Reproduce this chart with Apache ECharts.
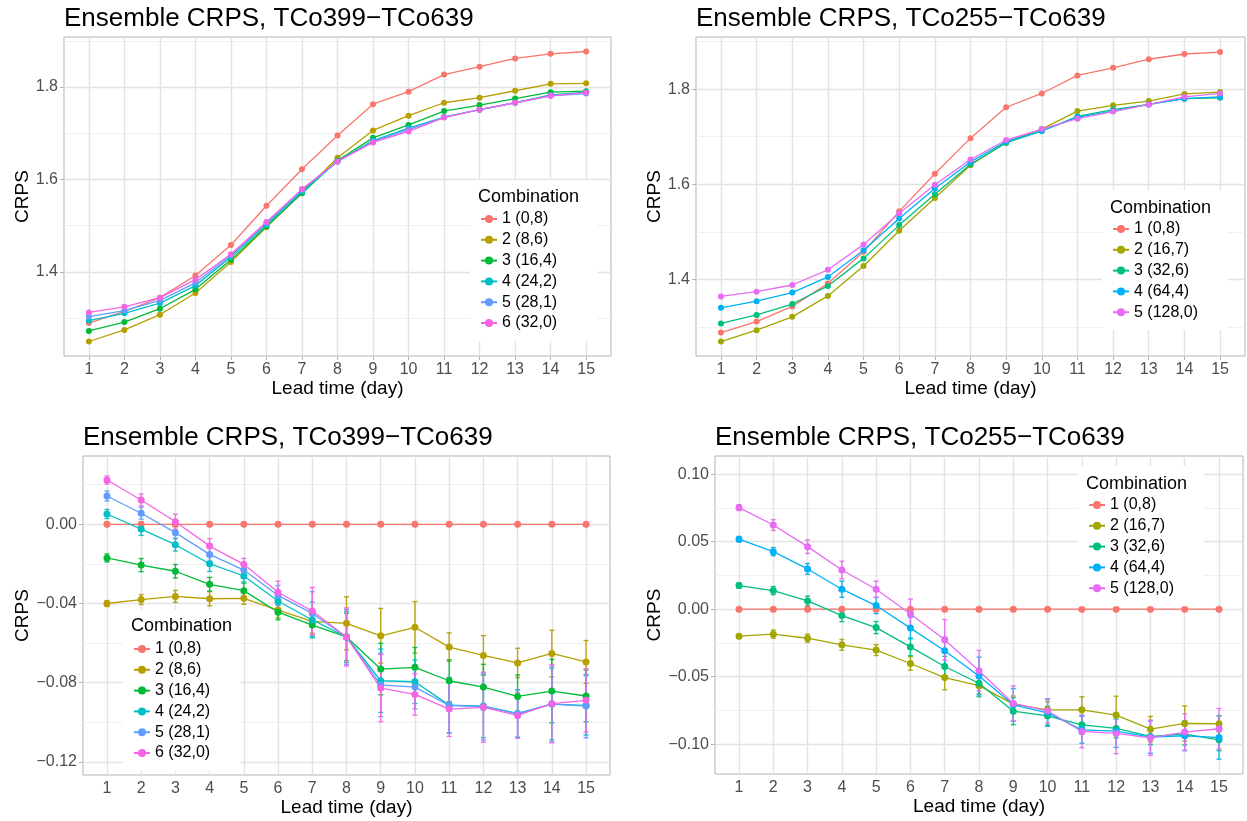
<!DOCTYPE html>
<html>
<head>
<meta charset="utf-8">
<script src="https://cdn.jsdelivr.net/npm/echarts@6/dist/echarts.min.js"></script>
<style>
html,body{margin:0;padding:0;background:#fff;}
#main{width:1247px;height:821px;}
</style>
</head>
<body>
<div id="main"></div>
<script>
var days = [1,2,3,4,5,6,7,8,9,10,11,12,13,14,15];

// top left: TCo399-TCo639
var p1Names = ['1 (0,8)','2 (8,6)','3 (16,4)','4 (24,2)','5 (28,1)','6 (32,0)'];
var p1S1 = [1.289,1.314,1.344,1.392,1.458,1.543,1.622,1.695,1.763,1.790,1.827,1.844,1.862,1.872,1.877];
var p1S2 = [1.249,1.274,1.307,1.354,1.421,1.497,1.571,1.647,1.706,1.738,1.766,1.777,1.792,1.807,1.808];
var p1S3 = [1.272,1.291,1.320,1.362,1.426,1.498,1.570,1.641,1.690,1.718,1.748,1.761,1.775,1.789,1.791];
var p1S4 = [1.294,1.310,1.332,1.370,1.432,1.502,1.574,1.639,1.684,1.711,1.735,1.751,1.766,1.783,1.789];
var p1S5 = [1.303,1.316,1.338,1.376,1.435,1.505,1.577,1.639,1.682,1.708,1.735,1.751,1.766,1.781,1.786];
var p1S6 = [1.312,1.324,1.344,1.383,1.438,1.508,1.579,1.639,1.680,1.704,1.734,1.751,1.766,1.781,1.788];

// top right: TCo255-TCo639
var p2Names = ['1 (0,8)','2 (16,7)','3 (32,6)','4 (64,4)','5 (128,0)'];
var p2S1 = [1.288,1.311,1.343,1.391,1.458,1.543,1.622,1.697,1.762,1.791,1.829,1.845,1.863,1.874,1.878];
var p2S2 = [1.269,1.293,1.321,1.365,1.428,1.502,1.571,1.640,1.689,1.716,1.754,1.766,1.775,1.790,1.794];
var p2S3 = [1.307,1.325,1.348,1.386,1.444,1.514,1.579,1.642,1.687,1.712,1.743,1.757,1.768,1.780,1.782];
var p2S4 = [1.340,1.354,1.372,1.405,1.461,1.528,1.591,1.647,1.690,1.712,1.741,1.754,1.768,1.780,1.784];
var p2S5 = [1.364,1.374,1.388,1.420,1.473,1.539,1.599,1.652,1.693,1.716,1.738,1.753,1.768,1.784,1.791];

// bottom left: difference to 1 (0,8), with error bar half widths
var p3S1 = [0,0,0,0,0,0,0,0,0,0,0,0,0,0,0];
var p3S2 = [-0.040,-0.038,-0.0364,-0.0376,-0.0374,-0.0433,-0.049,-0.050,-0.0563,-0.052,-0.062,-0.0662,-0.070,-0.0652,-0.0695];
var p3S3 = [-0.017,-0.0206,-0.0237,-0.0303,-0.0335,-0.0444,-0.0509,-0.0569,-0.0731,-0.0722,-0.079,-0.0822,-0.0869,-0.0842,-0.0867];
var p3S4 = [0.0052,-0.0024,-0.0103,-0.0199,-0.0261,-0.0387,-0.0483,-0.0569,-0.079,-0.0795,-0.0913,-0.0918,-0.0955,-0.0908,-0.0914];
var p3S5 = [0.0143,0.0056,-0.0042,-0.0152,-0.0231,-0.0359,-0.045,-0.0569,-0.0811,-0.0822,-0.0915,-0.092,-0.0957,-0.0908,-0.0918];
var p3S6 = [0.0224,0.0123,0.0013,-0.011,-0.0202,-0.0343,-0.0438,-0.0569,-0.0827,-0.0859,-0.0933,-0.0924,-0.0965,-0.0906,-0.0889];
var p3E2 = [0.0015,0.0025,0.003,0.0036,0.003,0.004,0.006,0.0134,0.0138,0.013,0.0072,0.010,0.0074,0.0118,0.0108];
var p3E3 = [0.002,0.0033,0.0034,0.0035,0.0038,0.0038,0.006,0.012,0.013,0.010,0.0106,0.0115,0.0108,0.016,0.013];
var p3E4 = [0.0023,0.0032,0.0032,0.0039,0.003,0.0038,0.009,0.013,0.016,0.011,0.014,0.016,0.012,0.018,0.015];
var p3E5 = [0.0025,0.003,0.003,0.0035,0.003,0.005,0.011,0.014,0.016,0.011,0.014,0.017,0.012,0.019,0.016];
var p3E6 = [0.002,0.003,0.0038,0.0038,0.003,0.0056,0.012,0.0147,0.017,0.0105,0.0138,0.0177,0.0115,0.0197,0.016];

// bottom right
var p4S1 = [0,0,0,0,0,0,0,0,0,0,0,0,0,0,0];
var p4S2 = [-0.020,-0.0185,-0.0215,-0.0264,-0.0303,-0.0402,-0.0506,-0.0566,-0.0703,-0.0745,-0.0745,-0.0784,-0.0888,-0.0846,-0.0848];
var p4S3 = [0.0175,0.0138,0.0061,-0.0047,-0.0136,-0.0279,-0.0424,-0.0548,-0.0755,-0.0789,-0.0856,-0.0883,-0.0942,-0.0925,-0.0967];
var p4S4 = [0.0518,0.0426,0.0298,0.0148,0.0027,-0.014,-0.0308,-0.0495,-0.0708,-0.0767,-0.0893,-0.0903,-0.0947,-0.0937,-0.095];
var p4S5 = [0.0752,0.0623,0.0463,0.029,0.0148,-0.0035,-0.0227,-0.0455,-0.0698,-0.0752,-0.0905,-0.092,-0.0952,-0.091,-0.0885];
var p4E2 = [0.0015,0.003,0.003,0.004,0.004,0.005,0.009,0.006,0.006,0.006,0.0097,0.014,0.0094,0.013,0.006];
var p4E3 = [0.002,0.003,0.0035,0.0045,0.0045,0.0065,0.0075,0.01,0.01,0.007,0.007,0.007,0.006,0.008,0.008];
var p4E4 = [0.002,0.003,0.004,0.006,0.006,0.008,0.01,0.014,0.012,0.01,0.01,0.012,0.012,0.011,0.016];
var p4E5 = [0.0022,0.004,0.005,0.0065,0.006,0.011,0.015,0.015,0.013,0.009,0.012,0.015,0.013,0.0135,0.015];

var topTicks = [1.4,1.6,1.8], topMinor = [1.3,1.5,1.7,1.9];
var p3Ticks = [0,-0.04,-0.08,-0.12], p3Minor = [0.02,-0.02,-0.06,-0.10];
var p4Ticks = [0.10,0.05,0,-0.05,-0.10], p4Minor = [0.075,0.025,-0.025,-0.075];

var col6 = ['#F8766D','#B79F00','#00BA38','#00BFC4','#619CFF','#F564E3'];
var col5 = ['#F8766D','#A3A500','#00BF7D','#00B0F6','#E76BF3'];

var FONT = '"Liberation Sans", Arial, sans-serif';

var grids = [
	{left:64, top:37, width:547, height:319},
	{left:696, top:37, width:549, height:319},
	{left:83, top:456, width:527, height:319},
	{left:715, top:456, width:528, height:318}
];
var yRange = [[1.2176,1.9084],[1.2386,1.9098],[-0.1266,0.0345],[-0.1220,0.1134]];

function fmtNum(v, d) {
	var s = Math.abs(v).toFixed(d);
	return v < -1e-9 ? '\u2212' + s : s;
}

var xAxes = [], yAxes = [];
var nameGapY = [27, 21, 40, 24];
var nameGapX = [18, 18, 20, 20];
var majors = [topTicks, topTicks, p3Ticks, p4Ticks];
var minors = [topMinor, topMinor, p3Minor, p4Minor];
var decs = [1, 1, 2, 2];
for (var g = 0; g < 4; g++) {
	xAxes.push({
		type:'value', gridIndex:g, min:0.3, max:15.7,
		name:'Lead time (day)', nameLocation:'middle', nameGap:nameGapX[g],
		nameTextStyle:{fontFamily:FONT, fontSize:19, color:'#000'},
		axisLine:{show:false},
		axisTick:{show:true, length:4, lineStyle:{color:'#b3b3b3'}, customValues:days},
		axisLabel:{fontFamily:FONT, fontSize:16, color:'#4d4d4d', margin:6, customValues:days},
		splitLine:{show:true, lineStyle:{color:'#e3e3e3', width:1.4}}
	});
	(function(d) {
		yAxes.push({
			type:'value', gridIndex:g, min:yRange[g][0], max:yRange[g][1],
			name:'CRPS', nameLocation:'middle', nameGap:nameGapY[g], nameRotate:90,
			nameTextStyle:{fontFamily:FONT, fontSize:19, color:'#000'},
			axisLine:{show:false},
			axisTick:{show:true, length:4, lineStyle:{color:'#b3b3b3'}, customValues:majors[g]},
			axisLabel:{fontFamily:FONT, fontSize:16, color:'#4d4d4d', margin:6, customValues:majors[g],
				formatter:function(v){ return fmtNum(v, d); }},
			splitLine:{show:true, lineStyle:{color:'#e3e3e3', width:1.4}}
		});
	})(decs[g]);
	// minor grid lines
	yAxes.push({
		type:'value', gridIndex:g, min:yRange[g][0], max:yRange[g][1], position:'left',
		axisLine:{show:false}, axisLabel:{show:false},
		axisTick:{show:false, customValues:minors[g]},
		splitLine:{show:true, lineStyle:{color:'#eeeeee', width:0.9}}
	});
}

var series = [];
function addLine(g, name, vals, color, size) {
	series.push({
		name:name, type:'line', xAxisIndex:g, yAxisIndex:g*2,
		data:days.map(function(d,i){ return [d, vals[i]]; }),
		symbol:'circle', symbolSize:size, showSymbol:true,
		lineStyle:{color:color, width:1.3}, itemStyle:{color:color},
		emphasis:{disabled:true}, animation:false, z:3
	});
}
function addErr(g, mean, err, color) {
	series.push({
		type:'custom', xAxisIndex:g, yAxisIndex:g*2, animation:false, z:2, silent:true,
		data:days.map(function(d,i){ return [d, mean[i]-err[i], mean[i]+err[i]]; }),
		renderItem:function(params, api) {
			var lo = api.coord([api.value(0), api.value(1)]);
			var hi = api.coord([api.value(0), api.value(2)]);
			var w = 2.5;
			var st = {stroke:color, lineWidth:1.4, opacity:0.9};
			return {type:'group', children:[
				{type:'line', shape:{x1:lo[0], y1:lo[1], x2:hi[0], y2:hi[1]}, style:st},
				{type:'line', shape:{x1:lo[0]-w, y1:lo[1], x2:lo[0]+w, y2:lo[1]}, style:st},
				{type:'line', shape:{x1:hi[0]-w, y1:hi[1], x2:hi[0]+w, y2:hi[1]}, style:st}
			]};
		}
	});
}

var p1Data = [p1S1,p1S2,p1S3,p1S4,p1S5,p1S6];
var p2Data = [p2S1,p2S2,p2S3,p2S4,p2S5];
var p3Data = [p3S1,p3S2,p3S3,p3S4,p3S5,p3S6];
var p3Err = [null,p3E2,p3E3,p3E4,p3E5,p3E6];
var p4Data = [p4S1,p4S2,p4S3,p4S4,p4S5];
var p4Err = [null,p4E2,p4E3,p4E4,p4E5];
var i;
for (i = 0; i < 6; i++) addLine(0, p1Names[i], p1Data[i], col6[i], 6);
for (i = 0; i < 5; i++) addLine(1, p2Names[i], p2Data[i], col5[i], 6);
for (i = 1; i < 6; i++) addErr(2, p3Data[i], p3Err[i], col6[i]);
for (i = 0; i < 6; i++) addLine(2, p1Names[i], p3Data[i], col6[i], 7);
for (i = 1; i < 5; i++) addErr(3, p4Data[i], p4Err[i], col5[i]);
for (i = 0; i < 5; i++) addLine(3, p2Names[i], p4Data[i], col5[i], 7);

function legendAt(names, left, top, padRight) {
	return {
		data:names, orient:'vertical', left:left, top:top,
		padding:[29, padRight, 8, 10], backgroundColor:'#fff',
		itemWidth:16, itemHeight:10, itemGap:0.8, selectedMode:false,
		textStyle:{fontFamily:FONT, fontSize:16, color:'#000', lineHeight:20}
	};
}

var titleStyle = {fontFamily:FONT, fontSize:26, fontWeight:'normal', color:'#000'};
var legTitle = {fontFamily:FONT, fontSize:18, fontWeight:'normal', color:'#000'};

var option = {
	backgroundColor:'#fff',
	animation:false,
	title:[
		{text:'Ensemble CRPS, TCo399\u2212TCo639', left:64, top:6, padding:0, textStyle:titleStyle},
		{text:'Ensemble CRPS, TCo255\u2212TCo639', left:696, top:6, padding:0, textStyle:titleStyle},
		{text:'Ensemble CRPS, TCo399\u2212TCo639', left:83, top:425, padding:0, textStyle:titleStyle},
		{text:'Ensemble CRPS, TCo255\u2212TCo639', left:715, top:425, padding:0, textStyle:titleStyle},
		{text:'Combination', left:478, top:188, padding:0, textStyle:legTitle, z:10},
		{text:'Combination', left:1110, top:199, padding:0, textStyle:legTitle, z:10},
		{text:'Combination', left:131, top:617, padding:0, textStyle:legTitle, z:10},
		{text:'Combination', left:1086, top:475, padding:0, textStyle:legTitle, z:10}
	],
	grid:grids.map(function(r){
		return {left:r.left, top:r.top, width:r.width, height:r.height, show:true,
			borderColor:'#b3b3b3', borderWidth:1, backgroundColor:'#fff'};
	}),
	legend:[
		legendAt(p1Names, 470, 180, 40),
		legendAt(p2Names, 1102, 190, 30),
		legendAt(p1Names, 123, 610, 30),
		legendAt(p2Names, 1078, 466, 30)
	],
	xAxis:xAxes,
	yAxis:yAxes,
	series:series
};

var myChart = echarts.init(document.getElementById('main'), null, {renderer:'canvas'});
myChart.setOption(option);
</script>
</body>
</html>
